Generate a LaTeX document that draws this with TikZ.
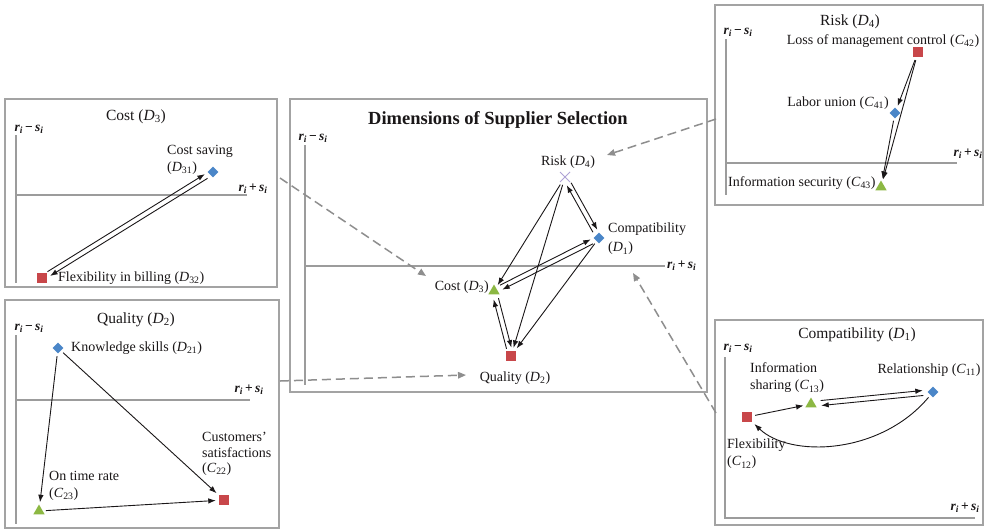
\documentclass[tikz,border=0pt]{standalone}
\usepackage{fontspec}
\setmainfont{Liberation Serif}
\usetikzlibrary{shapes.geometric,shapes.misc,arrows.meta,calc}
\definecolor{mkblue}{HTML}{4A86C8}
\definecolor{mkred}{HTML}{C8474A}
\definecolor{mkgreen}{HTML}{8CB843}
\definecolor{mkpurple}{HTML}{AFA3D6}
\definecolor{framegray}{HTML}{A3A3A3}
\definecolor{axisgray}{HTML}{9C9C9C}
\definecolor{dashgray}{HTML}{8E8E8E}
\definecolor{ink}{HTML}{1A1718}
\newcommand{\Dv}[1]{\textit{D}\textsubscript{#1}}
\newcommand{\Cv}[1]{\textit{C}\textsubscript{#1}}
\newcommand{\rmins}{\textbf{\textit{r\textsubscript{i}}\,−\,\textit{s\textsubscript{i}}}}
\newcommand{\rplus}{\textbf{\textit{r\textsubscript{i}}\,+\,\textit{s\textsubscript{i}}}}
\tikzset{
  frame/.style={draw=framegray, line width=1.2pt},
  axisline/.style={draw=axisgray, line width=1.4pt},
  lab/.style={font=\fontsize{14}{16.5}\selectfont, inner sep=1pt, text=ink},
  subt/.style={font=\fontsize{15.5}{17}\selectfont, inner sep=1pt, text=ink},
  axlab/.style={font=\fontsize{13.5}{14}\selectfont, inner sep=1pt, text=ink},
  arr/.style={-{Latex[length=7.5pt,width=5.5pt]}, line width=0.9pt, draw=ink},
  gap/.style={shorten >=3pt, shorten <=3pt},
  pairgap/.style={shorten >=#1, shorten <=#1},
  pairgap/.default=8pt,
  dasharr/.style={draw=dashgray, line width=1.5pt, dash pattern=on 9pt off 5pt, -{Triangle[length=8pt,width=6.5pt]}},
  sq/.style={rectangle, fill=mkred, minimum size=10pt, inner sep=0pt},
  dia/.style={diamond, fill=mkblue, minimum size=11pt, inner sep=0pt},
  tri/.style={regular polygon, regular polygon sides=3, fill=mkgreen, minimum size=13pt, inner sep=0pt},
  xmark/.style={cross out, draw=mkpurple, minimum size=9pt, line width=1pt, inner sep=0pt},
}
\newcommand{\twinarrows}[3][8pt]{%
  \draw[arr,pairgap=#1] ($(#2)!2.5pt!90:(#3)$) -- ($(#3)!2.5pt!-90:(#2)$);
  \draw[arr,pairgap=#1] ($(#3)!2.5pt!90:(#2)$) -- ($(#2)!2.5pt!-90:(#3)$);}
\begin{document}
\begin{tikzpicture}[x=1pt,y=-1pt]
\useasboundingbox (0,0) rectangle (985,531);
\fill[white] (0,0) rectangle (985,531);

% ---------------- frames ----------------
\draw[frame] (5,99) rectangle (277,287);
\draw[frame] (5,300) rectangle (279,528);
\draw[frame] (290,99) rectangle (707,392);
\draw[frame] (715,5) rectangle (983,205);
\draw[frame] (715,320) rectangle (983,525);

% ---------------- Cost box ----------------
\draw[axisline] (16,135) -- (16,283);
\draw[axisline] (16,195) -- (247,195);
\node[axlab] (cy) at (29,129) {\rmins};
\node[axlab] (cx) at (253,189) {\rplus};
\node[subt] (ct) at (136,117) {Cost (\Dv{3})};
\node[dia] (D31) at (213,172) {};
\node[lab, align=left, anchor=west] (lD31) at (166,160) {Cost saving\\(\Dv{31})};
\node[sq] (D32) at (42,278) {};
\node[lab, anchor=west] (lD32) at (57,278) {Flexibility in billing (\Dv{32})};
\twinarrows{D31}{D32}

% ---------------- Quality box ----------------
\draw[axisline] (16,335) -- (16,524);
\draw[axisline] (16,400) -- (250,400);
\node[axlab] (qy) at (29,328) {\rmins};
\node[axlab] (qx) at (249,390) {\rplus};
\node[subt] (qt) at (136,320) {Quality (\Dv{2})};
\node[dia] (D21) at (58,348) {};
\node[lab, anchor=west] (lD21) at (70,348) {Knowledge skills (\Dv{21})};
\node[tri] (C23) at (39,511) {};
\node[lab, align=left, anchor=west] (lC23) at (48,486) {On time rate\\(\Cv{23})};
\node[sq] (C22) at (224,500) {};
\node[lab, align=left, anchor=west, font=\fontsize{14}{15.5}\selectfont] (lC22) at (201,454) {Customers’\\satisfactions\\(\Cv{22})};
\draw[arr,gap] (D21) -- (C23);
\draw[arr,gap] (D21) -- (C22);
\draw[arr,gap] (C23) -- (C22);

% ---------------- Center box ----------------
\draw[axisline] (305,145) -- (305,385);
\draw[axisline] (305,266) -- (665,266);
\node[axlab] (my) at (313,138) {\rmins};
\node[axlab, anchor=west] (mx) at (666,266) {\rplus};
\node[font=\fontsize{18.5}{20}\selectfont\bfseries, text=ink] (title) at (498,120) {Dimensions of Supplier Selection};
\node[xmark] (D4) at (565,177) {};
\node[lab] (lD4) at (568,162) {Risk (\Dv{4})};
\node[dia] (D1) at (599,238) {};
\node[lab, align=left, anchor=west, font=\fontsize{14}{19}\selectfont] (lD1) at (607,239) {Compatibility\\(\Dv{1})};
\node[tri] (D3) at (494,291) {};
\node[lab, anchor=east] (lD3) at (490,287) {Cost (\Dv{3})};
\node[sq] (D2) at (511,356) {};
\node[lab] (lD2) at (515,378) {Quality (\Dv{2})};
\draw[arr,gap] (D4) -- (D3);
\draw[arr,gap] (D4) -- (D2);
\draw[arr,gap] (D1) -- (D2);
\twinarrows{D4}{D1}
\twinarrows{D1}{D3}
\twinarrows{D3}{D2}

% ---------------- Risk box ----------------
\draw[axisline] (726,39) -- (726,195);
\draw[axisline] (726,163) -- (957,163);
\node[axlab] (ry) at (738,32) {\rmins};
\node[axlab] (rx) at (968,154) {\rplus};
\node[subt] (rt) at (850,22) {Risk (\Dv{4})};
\node[sq] (C42) at (918,52) {};
\node[lab] (lC42) at (883,41) {Loss of management control (\Cv{42})};
\node[dia] (C41) at (895,113) {};
\node[lab, anchor=east] (lC41) at (890,103) {Labor union (\Cv{41})};
\node[tri] (C43) at (881,187) {};
\node[lab, anchor=west] (lC43) at (727,183) {Information security (\Cv{43})};
\draw[arr,gap] (C42) -- (C41);
\draw[arr,gap] (C42) -- (C43);
\draw[arr,gap] (C41) -- (C43);

% ---------------- Compatibility box ----------------
\draw[axisline] (725,357) -- (725,518) -- (975,518);
\node[axlab] (py) at (738,348) {\rmins};
\node[axlab] (px) at (965,508) {\rplus};
\node[subt] (pt) at (857,335) {Compatibility (\Dv{1})};
\node[dia] (C11) at (933,392) {};
\node[lab] (lC11) at (929,370) {Relationship (\Cv{11})};
\node[tri] (C13) at (811,404) {};
\node[lab, align=left, anchor=west, font=\fontsize{14}{17}\selectfont] (lC13) at (749,378) {Information\\sharing (\Cv{13})};
\node[sq] (C12) at (747,417) {};
\node[lab, align=left, anchor=west, font=\fontsize{14}{17}\selectfont] (lC12) at (726,454) {Flexibility\\(\Cv{12})};
\draw[arr,gap] (C12) -- (C13);
\twinarrows[10pt]{C13}{C11}
\draw[arr,gap] (C11) .. controls (880,455) and (790,458) .. (C12);

% ---------------- dashed links ----------------
\coordinate (dc1) at (280,178); \coordinate (dc2) at (426,276);
\coordinate (dq1) at (280,381); \coordinate (dq2) at (466,375);
\coordinate (dr1) at (716,119); \coordinate (dr2) at (607,155);
\coordinate (dp1) at (716,413); \coordinate (dp2) at (633,273);
\draw[dasharr] (dc1) -- (dc2);
\draw[dasharr] (dq1) -- (dq2);
\draw[dasharr] (dr1) -- (dr2);
\draw[dasharr] (dp1) -- (dp2);
\end{tikzpicture}
\end{document}
